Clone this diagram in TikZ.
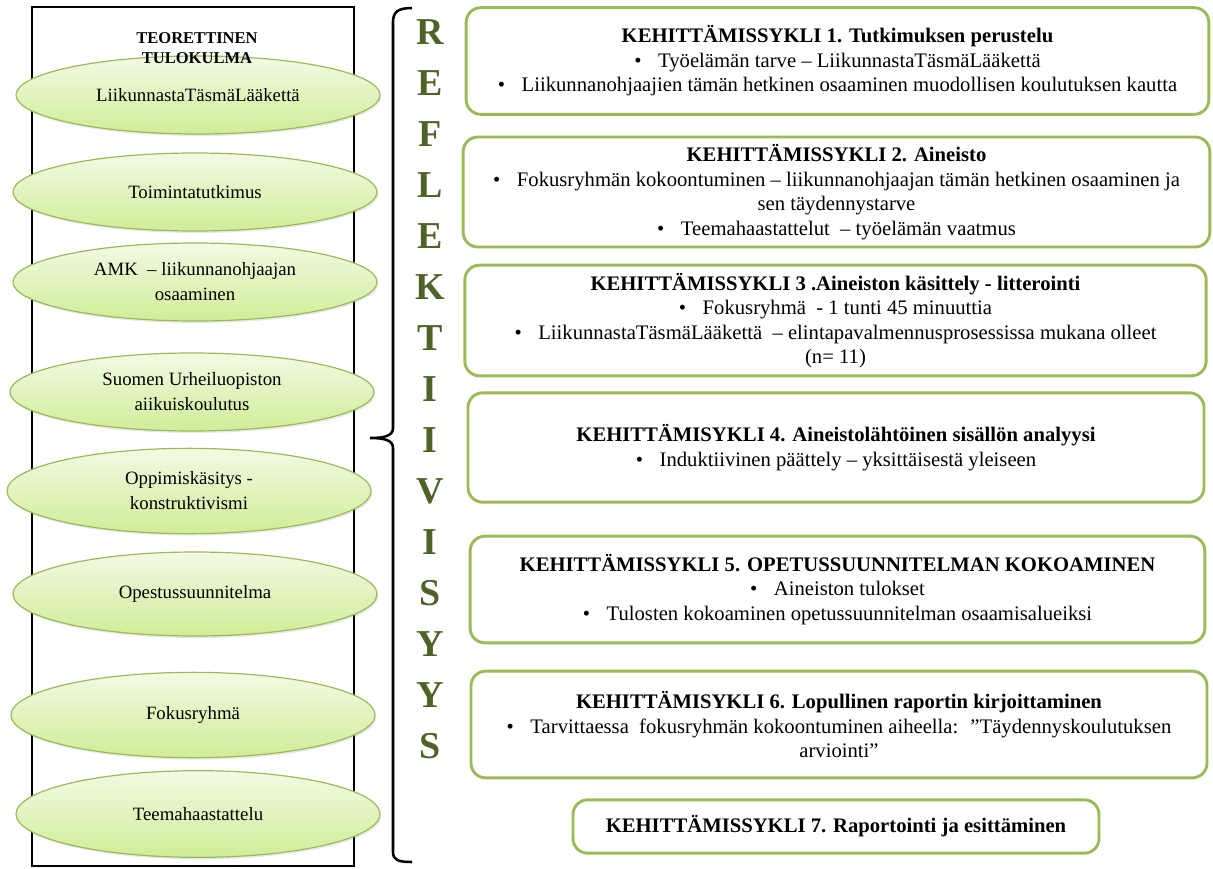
\documentclass[tikz,border=0pt]{standalone}
\usepackage{fontspec}
\setmainfont{Liberation Serif}
\usetikzlibrary{shapes.geometric,shadows}
\definecolor{olivegreen}{RGB}{155,187,89}
\definecolor{darkolive}{RGB}{79,98,40}
\definecolor{ellipsetop}{RGB}{242,250,228}
\definecolor{ellipsebottom}{RGB}{208,237,152}

\begin{document}
\begin{tikzpicture}[x=0.75pt,y=0.75pt,yscale=-1,xscale=1,
	theory/.style={ellipse,draw=olivegreen,line width=0.9pt,top color=ellipsetop,bottom color=ellipsebottom,
		minimum width=273pt,minimum height=58.5pt,inner sep=0pt,align=center,
		font=\fontsize{14.1}{18.8}\selectfont,
		drop shadow={opacity=0.18,shadow xshift=1pt,shadow yshift=-1.5pt}},
	cyclebox/.style={draw=olivegreen,line width=2.2pt,rounded corners=11pt,fill=white,
		inner sep=0pt,align=center,font=\fontsize{15.5}{18.4}\selectfont},
	refl/.style={text=darkolive,font=\fontsize{28.5}{30}\selectfont\bfseries,inner sep=0pt}]
\useasboundingbox (0,0) rectangle (1213,868);

% teoreettinen tulokulma
\draw [line width=1.9pt] (32,7) rectangle (354,866);
\node (ltl) at (198,95) [theory] {LiikunnastaTäsmäLääkettä};
\node (tt) at (195,192) [theory] {Toimintatutkimus};
\node (amk) at (195,282) [theory] {AMK \ – liikunnanohjaajan\\osaaminen};
\node (suo) at (192,392) [theory] {Suomen Urheiluopiston\\aiikuiskoulutus};
\node (opp) at (189,491) [theory,minimum height=64pt] {Oppimiskäsitys -\\konstruktivismi};
\node (ops) at (195,594) [theory,minimum height=63pt] {Opestussuunnitelma};
\node (fok) at (193,715) [theory,minimum height=64pt] {Fokusryhmä};
\node (tee) at (198,814) [theory,minimum height=65pt] {Teemahaastattelu};
\node (tulo) at (197,48) [align=center,inner sep=0pt,font=\fontsize{12.4}{15}\selectfont\bfseries] {TEORETTINEN\\TULOKULMA};

% aaltosulje
\draw [line width=1.9pt] (412,8) .. controls (398,8) and (393,12) .. (393,22) -- (393,428)
	.. controls (393,436) and (384,438) .. (370,438) .. controls (384,438) and (393,440) .. (393,448)
	-- (393,852) .. controls (393,860) and (398,862) .. (412,862);

% reflektiivisyys
\foreach \ch [count=\i from 0] in {R,E,F,L,E,K,T,I,I,V,I,S,Y,Y,S}
	\node (r\i) at (430,32+51*\i) [refl] {\ch};

% kehittamissyklit
\node (k1) at (837.5,61) [cyclebox,minimum width=557pt,minimum height=80pt]
	{\textbf{KEHITTÄMISSYKLI 1. Tutkimuksen perustelu}\\
	•\hspace{0.8em}Työelämän tarve – LiikunnastaTäsmäLääkettä\\
	•\hspace{0.8em}Liikunnanohjaajien tämän hetkinen osaaminen muodollisen koulutuksen kautta};
\node (k2) at (836.5,192) [cyclebox,minimum width=560pt,minimum height=82.5pt]
	{\textbf{KEHITTÄMISSYKLI 2. Aineisto}\\
	•\hspace{0.8em}Fokusryhmän kokoontuminen – liikunnanohjaajan tämän hetkinen osaaminen ja\\
	sen täydennystarve\\
	•\hspace{0.8em}Teemahaastattelut \ – työelämän vaatmus};
\node (k3) at (835.5,320.5) [cyclebox,minimum width=556pt,minimum height=83pt]
	{\textbf{KEHITTÄMISSYKLI 3 .Aineiston käsittely - litterointi}\\
	•\hspace{0.8em}Fokusryhmä \ - 1 tunti 45 minuuttia\\
	•\hspace{0.8em}LiikunnastaTäsmäLääkettä \ – elintapavalmennusprosessissa mukana olleet\\
	(n= 11)};
\node (k4) at (836,447.5) [cyclebox,minimum width=552pt,minimum height=82pt]
	{\textbf{KEHITTÄMISYKLI 4. Aineistolähtöinen sisällön analyysi}\\
	•\hspace{0.8em}Induktiivinen päättely – yksittäisestä yleiseen};
\node (k5) at (837.5,589.5) [cyclebox,minimum width=551pt,minimum height=80pt]
	{\textbf{KEHITTÄMISSYKLI 5. OPETUSSUUNNITELMAN KOKOAMINEN}\\
	•\hspace{0.8em}Aineiston tulokset\\
	•\hspace{0.8em}Tulosten kokoaminen opetussuunnitelman osaamisalueiksi};
\node (k6) at (839,724.5) [cyclebox,minimum width=552pt,minimum height=80pt]
	{\textbf{KEHITTÄMISYKLI 6. Lopullinen raportin kirjoittaminen}\\
	•\hspace{0.8em}Tarvittaessa \ fokusryhmän kokoontuminen aiheella: \ ”Täydennyskoulutuksen\\
	arviointi”};
\node (k7) at (836,826.5) [cyclebox,minimum width=394.5pt,minimum height=40pt]
	{\textbf{KEHITTÄMISSYKLI 7. Raportointi ja esittäminen}};
\end{tikzpicture}
\end{document}
